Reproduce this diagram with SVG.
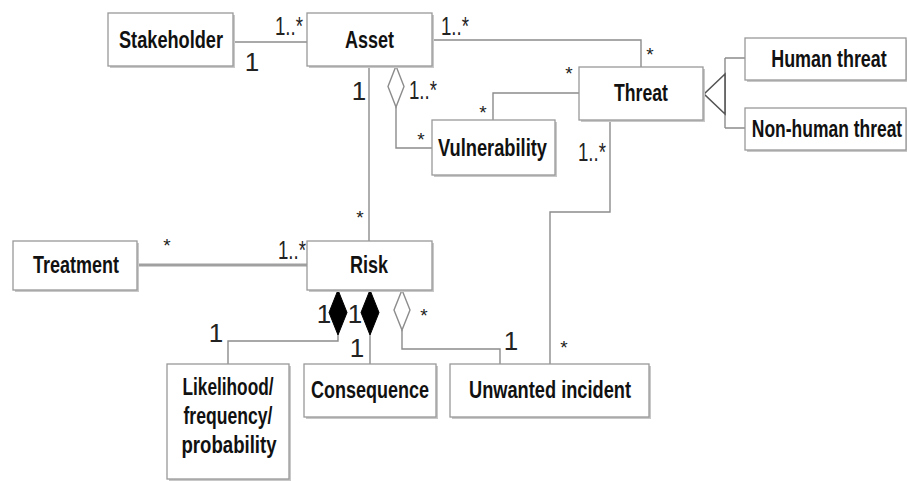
<svg xmlns="http://www.w3.org/2000/svg" width="907" height="481" viewBox="0 0 907 481">
<style>
.box{fill:#fff;stroke:#999;stroke-width:1.3}
.sh{fill:#c8c8c8}
.t{font-family:"Liberation Sans Narrow","Liberation Sans",Arial,sans-serif;font-weight:bold;font-size:23px;fill:#111;text-anchor:middle}
.ln{fill:none;stroke:#8c8c8c;stroke-width:1.4}
.thick{fill:none;stroke:#a0a0a0;stroke-width:3.2}
.lb{font-family:"Liberation Sans Narrow","Liberation Sans",Arial,sans-serif;font-size:26px;fill:#222;text-anchor:middle}
.st{font-family:"Liberation Sans Narrow","Liberation Sans",Arial,sans-serif;font-size:19px;fill:#222;text-anchor:middle}
.fd{fill:#000;stroke:#000;stroke-width:1}
.hd{fill:#fff;stroke:#8c8c8c;stroke-width:1.4}
</style>
<rect width="907" height="481" fill="#fff"/>
<g id="connectors">
<path class="ln" d="M233 42H307"/>
<path class="ln" d="M432 40H641V67"/>
<path class="ln" d="M579 93H493V120"/>
<path class="ln" d="M396 107V148H432"/>
<path class="ln" d="M369 66V241"/>
<path class="thick" d="M137 265H307"/>
<path class="ln" d="M610 120V212H550V364"/>
<path class="ln" d="M338 335V341H228V364"/>
<path class="ln" d="M370 335V364"/>
<path class="ln" d="M402 330V349H500V364"/>
<path class="ln" d="M725 58V128M725 58H745M725 128H745"/>
<polygon class="hd" points="704,94 725,74 725,114" style="stroke:#555;stroke-width:1.6"/>
<polygon class="hd" points="396,66 404,86.5 396,107 388,86.5"/>
<polygon class="fd" points="338,290 347,312.5 338,335 329,312.5"/>
<polygon class="fd" points="370,290 379,312.5 370,335 361,312.5"/>
<polygon class="hd" points="402,290 410,310 402,330 394,310"/>
</g>
<g id="labels">
<text class="lb" x="289" y="35" textLength="28" lengthAdjust="spacingAndGlyphs">1..*</text>
<text class="lb" x="252" y="71">1</text>
<text class="lb" x="455" y="35" textLength="28" lengthAdjust="spacingAndGlyphs">1..*</text>
<text class="st" x="650" y="61">*</text>
<text class="st" x="569" y="80">*</text>
<text class="st" x="483" y="119">*</text>
<text class="lb" x="423" y="99" textLength="28" lengthAdjust="spacingAndGlyphs">1..*</text>
<text class="lb" x="359" y="100">1</text>
<text class="st" x="421" y="146">*</text>
<text class="st" x="360" y="224">*</text>
<text class="lb" x="292" y="259" textLength="28" lengthAdjust="spacingAndGlyphs">1..*</text>
<text class="st" x="167" y="252">*</text>
<text class="lb" x="592" y="161" textLength="28" lengthAdjust="spacingAndGlyphs">1..*</text>
<text class="lb" x="324" y="323">1</text>
<text class="lb" x="355" y="323">1</text>
<text class="lb" x="357" y="357">1</text>
<text class="st" x="424" y="322">*</text>
<text class="lb" x="216" y="342">1</text>
<text class="lb" x="511" y="350">1</text>
<text class="st" x="564" y="354">*</text>
</g>
<g id="stakeholder"><rect class="sh" x="110" y="15" width="125" height="53"/><rect class="box" x="108" y="13" width="125" height="53"/><text class="t" x="171" y="48" textLength="104" lengthAdjust="spacingAndGlyphs">Stakeholder</text></g>
<g id="asset"><rect class="sh" x="309" y="15" width="125" height="53"/><rect class="box" x="307" y="13" width="125" height="53"/><text class="t" x="369.5" y="48" textLength="49" lengthAdjust="spacingAndGlyphs">Asset</text></g>
<g id="threat"><rect class="sh" x="581" y="69" width="124" height="53"/><rect class="box" x="579" y="67" width="124" height="53"/><text class="t" x="641" y="101" textLength="54" lengthAdjust="spacingAndGlyphs">Threat</text></g>
<g id="human-threat"><rect class="sh" x="747" y="40" width="160" height="42"/><rect class="box" x="745" y="38" width="161" height="42"/><text class="t" transform="translate(829 67) scale(0.78 1)" x="0" y="0">Human threat</text></g>
<g id="non-human-threat"><rect class="sh" x="747" y="110" width="160" height="42"/><rect class="box" x="745" y="108" width="161" height="42"/><text class="t" transform="translate(827 137) scale(0.76 1)" x="0" y="0">Non-human threat</text></g>
<g id="vulnerability"><rect class="sh" x="434" y="122" width="123" height="55"/><rect class="box" x="432" y="120" width="123" height="55"/><text class="t" x="492.5" y="156" textLength="109" lengthAdjust="spacingAndGlyphs">Vulnerability</text></g>
<g id="treatment"><rect class="sh" x="15" y="243" width="124" height="49"/><rect class="box" x="13" y="241" width="124" height="49"/><text class="t" x="76" y="273" textLength="86" lengthAdjust="spacingAndGlyphs">Treatment</text></g>
<g id="risk"><rect class="sh" x="309" y="243" width="125" height="49"/><rect class="box" x="307" y="241" width="125" height="49"/><text class="t" x="369" y="273" textLength="38" lengthAdjust="spacingAndGlyphs">Risk</text></g>
<g id="likelihood"><rect class="sh" x="169" y="366" width="122" height="115"/><rect class="box" x="167" y="364" width="122" height="115"/><text class="t" x="228" y="395" textLength="91" lengthAdjust="spacingAndGlyphs">Likelihood/</text><text class="t" x="228" y="424" textLength="89" lengthAdjust="spacingAndGlyphs">frequency/</text><text class="t" x="229" y="453" textLength="95" lengthAdjust="spacingAndGlyphs">probability</text></g>
<g id="consequence"><rect class="sh" x="306" y="366" width="132" height="53"/><rect class="box" x="304" y="364" width="132" height="53"/><text class="t" x="370" y="398" textLength="118" lengthAdjust="spacingAndGlyphs">Consequence</text></g>
<g id="unwanted-incident"><rect class="sh" x="452" y="366" width="199" height="53"/><rect class="box" x="450" y="364" width="199" height="53"/><text class="t" x="550" y="398" textLength="162" lengthAdjust="spacingAndGlyphs">Unwanted incident</text></g>
</svg>
